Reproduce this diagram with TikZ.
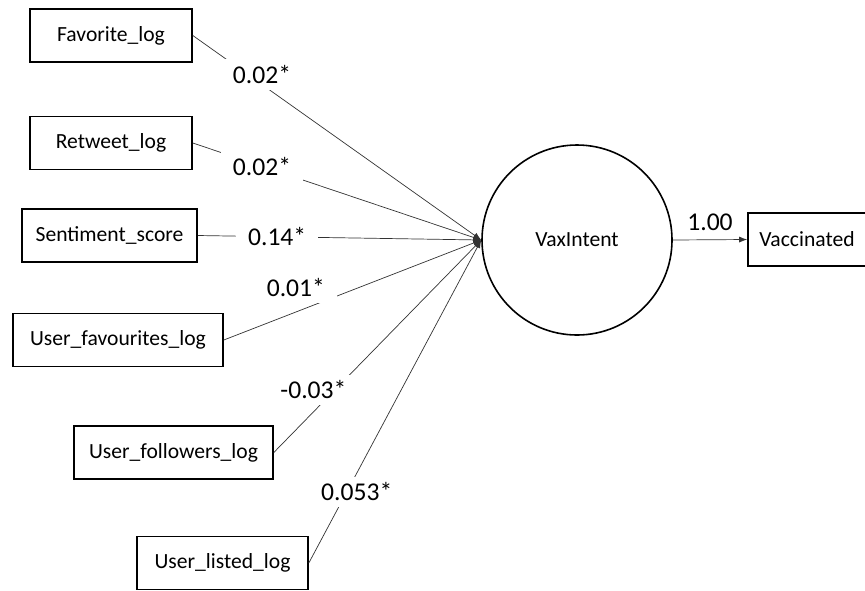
\documentclass[tikz,border=0pt]{standalone}
\usepackage{fontspec}
\setmainfont{Carlito}
\usetikzlibrary{arrows.meta}

\begin{document}
\begin{tikzpicture}[
        x=0.5pt, y=-0.5pt,
        Var/.style={rectangle, draw=black, line width=0.8pt, fill=white, minimum height=26.5pt, align=center, font=\fontsize{10.8}{12}\selectfont},
        Latent/.style={circle, draw=black, line width=0.8pt, minimum size=95pt, font=\fontsize{10.8}{12}\selectfont},
        Coef/.style={fill=white, inner xsep=6pt, inner ysep=3pt, font=\fontsize{12.8}{14}\selectfont},
        Path/.style={draw=black!80, line width=0.35pt, -{Latex[length=4pt, width=3pt]}}
    ]
    \useasboundingbox (0,0) rectangle (865,590);

    % Draw the observed predictors
    \node (FAV) [Var, minimum width=81pt] at (111,35.5) {Favorite\_log};
    \node (RT) [Var, minimum width=81pt] at (111,143) {Retweet\_log};
    \node (SENT) [Var, minimum width=87.5pt] at (109.5,235.5) {Sentiment\_score};
    \node (UFAV) [Var, minimum width=105pt] at (118,340) {User\_favourites\_log};
    \node (UFOL) [Var, minimum width=99.5pt] at (173.5,452.5) {User\_followers\_log};
    \node (ULIST) [Var, minimum width=85.5pt] at (222.5,563) {User\_listed\_log};

    % Draw the latent intention and the outcome
    \node (VAX) [Latent] at (577,240) {VaxIntent};
    \node (VACC) [Var, minimum width=59pt] at (807,239.5) {Vaccinated};

    % Paths into VaxIntent
    \draw[Path] (FAV.east) -- node[Coef, pos=0.24, yshift=5pt] {0.02*} (VAX.west);
    \draw[Path] (RT.east) -- node[Coef, pos=0.24] {0.02*} (VAX.west);
    \draw[Path] (SENT.east) -- node[Coef, pos=0.28] {0.14*} (VAX.west);
    \draw[Path] (UFAV.east) -- node[Coef, pos=0.28, yshift=12pt] {0.01*} (VAX.west);
    \draw[Path] (UFOL.east) -- node[Coef, pos=0.22, xshift=-3pt, yshift=8pt] {-0.03*} (VAX.west);
    \draw[Path] (ULIST.east) -- node[Coef, pos=0.22, xshift=5pt] {0.053*} (VAX.west);

    % Path to the outcome
    \draw[Path] (VAX.east) -- node[above=1pt, font=\fontsize{12.8}{14}\selectfont] {1.00} (VACC.west);

\end{tikzpicture}
\end{document}
